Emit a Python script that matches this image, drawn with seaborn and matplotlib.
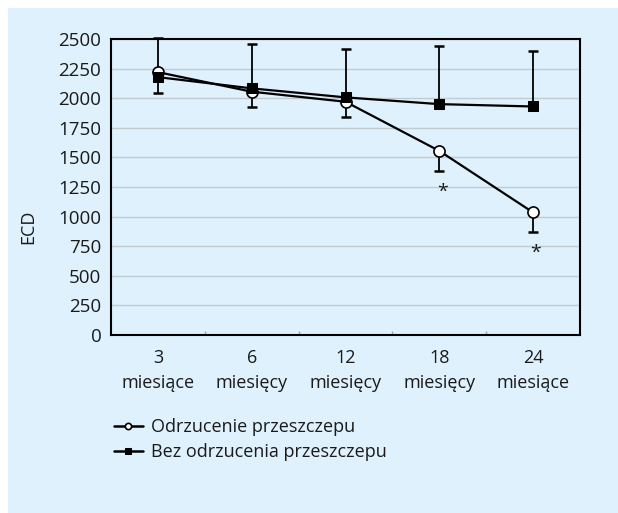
import pandas as pd
import seaborn as sns
import matplotlib.pyplot as plt
from matplotlib.patches import Rectangle

# dane
months = ["3\nmiesiące", "6\nmiesięcy", "12\nmiesięcy", "18\nmiesięcy", "24\nmiesiące"]
odrzucenie = [2220, 2055, 1970, 1555, 1035]
odrzucenie_err_down = [180, 127, 131, 166, 166]
bez_odrzucenia = [2178, 2083, 2007, 1950, 1930]
bez_err_up = [333, 375, 406, 491, 471]
star_x = [3, 4]
star_y = [1210, 690]

bg = "#dff1fc"
txt = "#1a1a1a"

df_odrz = pd.DataFrame({"month": months, "ECD": odrzucenie})
df_bez = pd.DataFrame({"month": months, "ECD": bez_odrzucenia})

sns.set_style("white")
plt.rcParams["font.family"] = ["Open Sans", "DejaVu Sans"]
plt.rcParams["font.size"] = 13
plt.rcParams["text.color"] = txt
plt.rcParams["xtick.color"] = txt
plt.rcParams["ytick.color"] = txt

fig = plt.figure(figsize=(6.18, 5.13), dpi=100)
fig.patch.set_facecolor("white")
fig.patches.append(Rectangle((8 / 618, 0), 1, 1 - 8 / 513, transform=fig.transFigure,
                             facecolor=bg, edgecolor="none", zorder=-10))
ax = fig.add_axes([111 / 618, 1 - 335 / 513, 469 / 618, 296 / 513])
ax.set_facecolor(bg)

sns.lineplot(data=df_odrz, x="month", y="ECD", sort=False, ax=ax, color="black",
             linewidth=1.6, marker="o", markersize=8, markerfacecolor="white",
             markeredgecolor="black", markeredgewidth=1.2,
             label="Odrzucenie przeszczepu", zorder=3)
ax.errorbar(months, odrzucenie, yerr=[odrzucenie_err_down, [0] * 5], fmt="none",
            ecolor="black", elinewidth=1.3, capsize=3.5, capthick=1.8, zorder=2,
            clip_on=False)

sns.lineplot(data=df_bez, x="month", y="ECD", sort=False, ax=ax, color="black",
             linewidth=1.6, marker="s", markersize=7.5, markerfacecolor="black",
             markeredgecolor="black", label="Bez odrzucenia przeszczepu", zorder=4)
ax.errorbar(months, bez_odrzucenia, yerr=[[0] * 5, bez_err_up], fmt="none",
            ecolor="black", elinewidth=1.3, capsize=3.5, capthick=1.8, zorder=2,
            clip_on=False)

for x, y in zip(star_x, star_y):
    ax.text(x + 0.03, y, "*", ha="center", va="center", fontsize=14, color=txt)

ax.set_ylim(0, 2500)
ax.set_yticks(range(0, 2501, 250))
ax.set_xlim(-0.5, 4.5)
ax.yaxis.grid(True, color="#c2cbd0", linewidth=1)
ax.xaxis.grid(False)
ax.set_axisbelow(True)
ax.set_xticks([0.5, 1.5, 2.5, 3.5], minor=True)
ax.tick_params(axis="x", which="minor", direction="in", length=3, width=1,
               color="#9aa4aa", bottom=True)
ax.tick_params(axis="x", which="major", length=0, pad=10, labelsize=13)
ax.tick_params(axis="y", length=0, pad=7, labelsize=13.5)
for lbl in ax.get_xticklabels():
    lbl.set_linespacing(1.5)
for sp in ax.spines.values():
    sp.set_color("black")
    sp.set_linewidth(1.5)

ax.set_xlabel("")
ax.set_ylabel("")
fig.text(28 / 618, 1 - 227 / 513, "ECD", rotation=90, ha="center", va="center", fontsize=13)

leg = ax.legend(loc="upper left", bbox_to_anchor=(114 / 618, 1 - 418 / 513),
                bbox_transform=fig.transFigure, frameon=False, fontsize=13,
                handlelength=1.6, handletextpad=0.45, labelspacing=0.4, borderpad=0,
                borderaxespad=0)
for h in leg.legend_handles:
    h.set_markersize(4.5)
    h.set_linewidth(1.8)

fig.savefig("out.png", dpi=100, facecolor=fig.get_facecolor())
